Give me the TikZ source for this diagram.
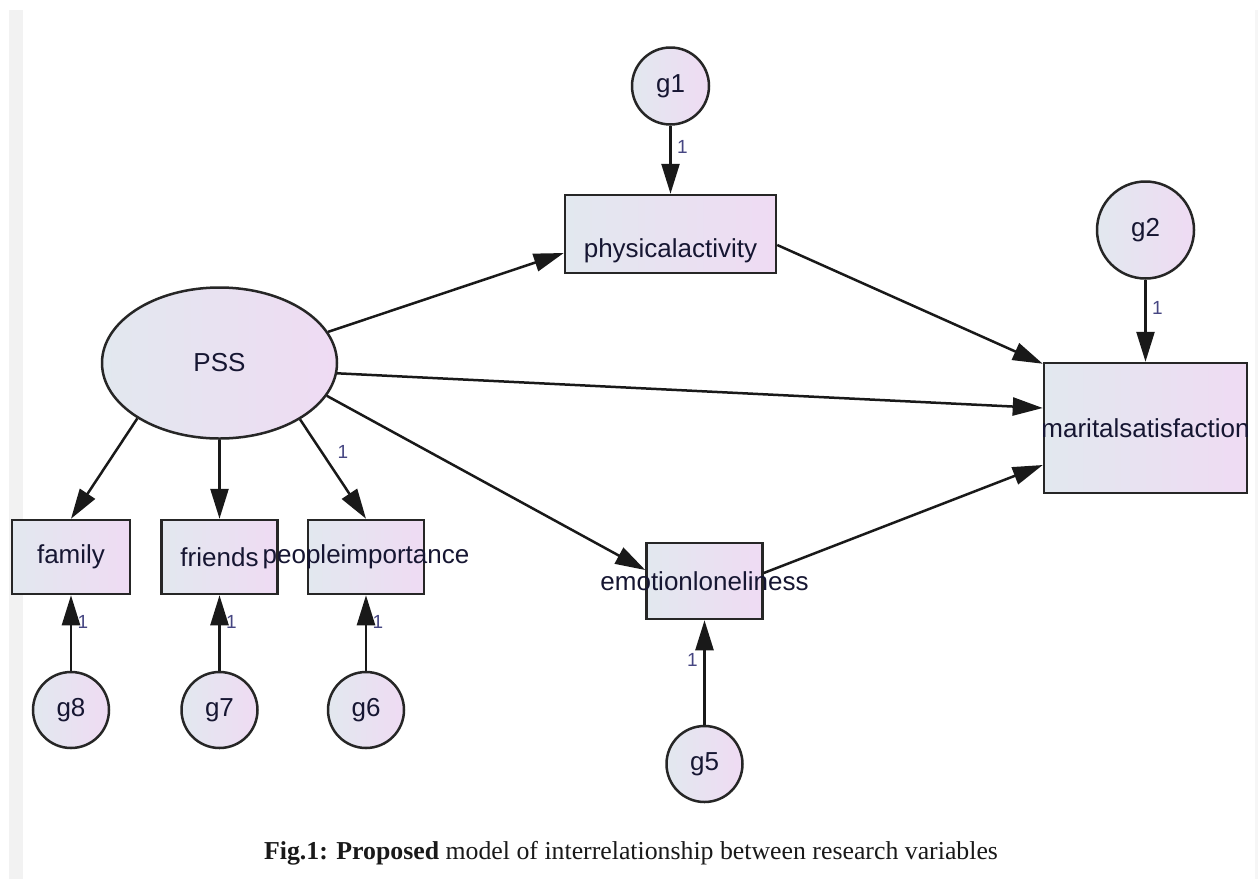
\documentclass[tikz,border=0pt]{standalone}
\usepackage{fontspec}
\setmainfont{Liberation Serif}
\newfontfamily\amosfont{Liberation Sans}
\usetikzlibrary{shapes.geometric,arrows.meta,calc}
\definecolor{fillA}{RGB}{226,232,239}
\definecolor{fillB}{RGB}{239,219,243}
\definecolor{txtc}{RGB}{22,22,50}
\definecolor{onec}{RGB}{70,70,130}
\definecolor{barc}{RGB}{242,242,242}
\definecolor{barr}{RGB}{246,246,246}
\tikzset{
  obs/.style={draw=black!85, line width=2.5pt, rectangle, inner sep=0pt,
    left color=fillA, right color=fillB, text=txtc,
    font=\amosfont\fontsize{26}{30}\selectfont},
  lat/.style={draw=black!85, line width=2.5pt, ellipse, inner sep=0pt,
    left color=fillA, right color=fillB, text=txtc,
    font=\amosfont\fontsize{26}{30}\selectfont},
  err/.style={draw=black!85, line width=2.5pt, circle, inner sep=0pt,
    left color=fillA, right color=fillB, text=txtc,
    font=\amosfont\fontsize{26}{30}\selectfont},
  lbl/.style={text=txtc, inner sep=0pt, font=\amosfont\fontsize{26}{30}\selectfont},
  path/.style={draw=black!90, line width=2.5pt, -{Triangle[length=30pt,width=18pt]}},
  one/.style={text=onec, inner sep=0pt, font=\amosfont\fontsize{19}{21}\selectfont}
}
\begin{document}
\begin{tikzpicture}[x=1pt,y=-1pt]
\useasboundingbox (0,0) rectangle (1258,879);
\fill[white] (0,0) rectangle (1258,879);
\fill[barc] (9,10) rectangle (23,879);
\fill[barr] (1255,10) rectangle (1258,879);

% latent
\node[lat, minimum width=235pt, minimum height=151pt] (PSS) at (219.5,363) {PSS};

% observed
\node[obs, minimum width=118pt, minimum height=74pt] (family) at (71,557) {\makebox[0pt]{family}};
\node[obs, minimum width=116pt, minimum height=74pt] (friends) at (219.5,557) {\makebox[0pt]{friends}};
\node[obs, minimum width=116pt, minimum height=74pt] (imp) at (366,557) {\makebox[0pt]{peopleimportance}};
\node[obs, minimum width=211pt, minimum height=78pt] (phys) at (670.5,234) {};
\node[lbl] (physlbl) at ([yshift=-17pt]phys.center) {physicalactivity};
\node[obs, minimum width=203pt, minimum height=130pt] (marital) at (1145.5,428) {\makebox[0pt]{maritalsatisfaction}};
\node[obs, minimum width=116pt, minimum height=76pt] (emo) at (704.5,581) {\makebox[0pt]{emotionloneliness}};

% errors
\node[err, minimum size=77pt] (g1) at (670.5,86) {g1};
\node[err, minimum size=97pt] (g2) at (1145.5,230) {g2};
\node[err, minimum size=76pt] (g5) at (704.5,764) {g5};
\node[err, minimum size=76pt] (g6) at (366,710) {g6};
\node[err, minimum size=76pt] (g7) at (219.5,710) {g7};
\node[err, minimum size=76pt] (g8) at (71,710) {g8};

% structural paths
\draw[path] (PSS.16) -- ([yshift=-19pt]phys.west);
\draw[path] (PSS.-5) -- ([yshift=20pt]marital.west);
\draw[path] (PSS.-17.5) -- ([yshift=11pt]emo.west);
\draw[path] ([yshift=-11pt]phys.east) -- ([yshift=-2pt]marital.north west);
\draw[path] ([yshift=8pt]emo.east) -- ([yshift=-37pt]marital.west);

% measurement paths
\draw[path] (PSS.214) -- (family.north);
\draw[path] (PSS.south) -- (friends.north);
\draw[path] (PSS.325.5) -- node[one, pos=0.33, xshift=21pt] {1} (imp.north);

% error paths
\draw[path] (g1.south) -- node[one, pos=0.31, xshift=12pt] {1} (phys.north);
\draw[path] (g2.south) -- node[one, pos=0.35, xshift=12pt] {1} (marital.north);
\draw[path] (g5.north) -- node[one, pos=0.62, xshift=-12pt] {1} (emo.south);
\draw[path] (g8.north) -- node[one, pos=0.64, xshift=12pt] {1} (family.south);
\draw[path] (g7.north) -- node[one, pos=0.64, xshift=12pt] {1} (friends.south);
\draw[path] (g6.north) -- node[one, pos=0.64, xshift=12pt] {1} (imp.south);

% caption
\node[inner sep=0pt, font=\fontsize{25.8}{30}\selectfont, text=black!90] (cap) at (631,853)
  {\textbf{Fig.1: Proposed} model of interrelationship between research variables};
\end{tikzpicture}
\end{document}
